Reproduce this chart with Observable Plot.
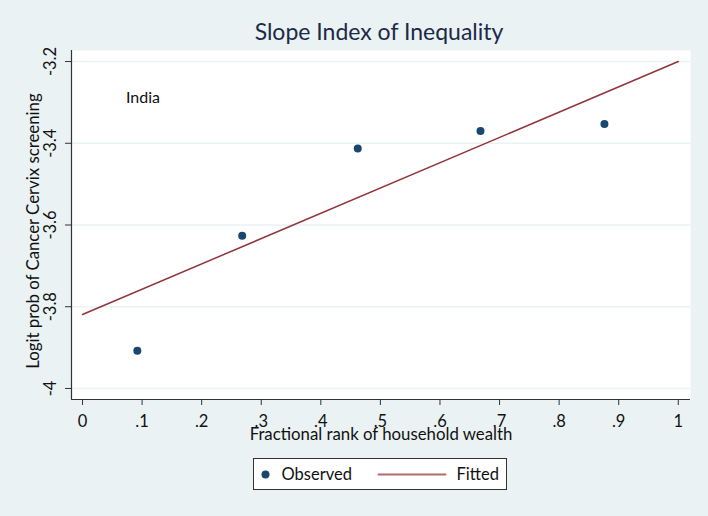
<!DOCTYPE html>
<html><head><meta charset="utf-8">
<script src="https://cdn.jsdelivr.net/npm/d3@7"></script>
<script src="https://cdn.jsdelivr.net/npm/@observablehq/plot@0.6"></script>
<style>
body{margin:0;background:#fff;}
#wrap{position:relative;width:708px;height:516px;background:#eaf2f3;font-family:Lato,"Open Sans",sans-serif;overflow:hidden;}
#title{position:absolute;left:0;width:758px;top:17px;text-align:center;font-size:23px;color:#1c2a48;}
#legend{position:absolute;left:253px;top:458px;width:252px;height:30px;background:#fff;border:1px solid #333;box-sizing:content-box;}
#legend svg{display:block;}
#plot{position:absolute;left:0;top:0;}
</style></head>
<body>
<div id="wrap">
<div id="plot"></div>
<div id="title">Slope Index of Inequality</div>
<div id="legend"></div>
</div>
<script>
const rank = [0.092, 0.268, 0.462, 0.668, 0.876];
const logit = [-3.908, -3.626, -3.413, -3.370, -3.353];
const fitX = [0, 1];
const fitY = [-3.819, -3.200];
const xTicks = [0,0.1,0.2,0.3,0.4,0.5,0.6,0.7,0.8,0.9,1];
const xTickLabels = ["0",".1",".2",".3",".4",".5",".6",".7",".8",".9","1"];
const yTicks = [-4,-3.8,-3.6,-3.4,-3.2];
const yTickLabels = ["-4","-3.8","-3.6","-3.4","-3.2"];
const legendLabels = ["Observed","Fitted"];

const obs = rank.map((r,i)=>({x:r,y:logit[i]}));
const fit = fitX.map((r,i)=>({x:r,y:fitY[i]}));
const xDom = [-0.0185, 1.0205];
const yDom = [-4.027, -3.173];

const chart = Plot.plot({
  width:708, height:516,
  marginLeft:71, marginRight:18, marginTop:50, marginBottom:117,
  x:{domain:xDom},
  y:{domain:yDom},
  style:{fontFamily:"Lato, 'Open Sans', sans-serif", background:"transparent"},
  marks:[
    Plot.frame({fill:"white", stroke:"none"}),
    Plot.gridY(yTicks,{stroke:"#eaf2f3", strokeOpacity:1, strokeWidth:1.5}),
    Plot.ruleX([xDom[0]],{stroke:"#333", strokeWidth:1.2}),
    Plot.ruleY([yDom[0]],{stroke:"#333", strokeWidth:1.2}),
    Plot.axisX({ticks:xTicks, tickFormat:(d,i)=>xTickLabels[i], tickSize:6, tickPadding:10, fontSize:16.5, stroke:"#333", color:"#111", label:null}),
    Plot.axisY({ticks:yTicks, tickSize:6, tickFormat:()=>"", stroke:"#333", label:null}),
    Plot.text(yTicks,{y:d=>d, text:(d,i)=>yTickLabels[i], frameAnchor:"left", dx:-21, rotate:-90, textAnchor:"middle", fontSize:16.5, fill:"#111"}),
    Plot.text(["Fractional rank of household wealth"],{frameAnchor:"bottom", dy:40, text:d=>d, fontSize:16.8, fill:"#111"}),
    Plot.text(["Logit prob of Cancer Cervix screening"],{frameAnchor:"left", dx:-38, rotate:-90, textAnchor:"middle", text:d=>d, fontSize:16.8, fill:"#111", dy:6}),
    Plot.text(["India"],{x:[0.073], y:[-3.29], text:d=>d, textAnchor:"start", fontSize:16, fill:"#111"}),
    Plot.line(fit,{x:"x", y:"y", stroke:"#90353b", strokeWidth:1.5}),
    Plot.dot(obs,{x:"x", y:"y", r:4, fill:"#1a476f", stroke:"none"})
  ]
});
document.getElementById("plot").appendChild(chart);

// legend
const lg = Plot.plot({
  width:252, height:30, margin:0,
  x:{domain:[0,252], axis:null}, y:{domain:[0,30], axis:null},
  style:{background:"white", fontFamily:"Lato, 'Open Sans', sans-serif"},
  marks:[
    Plot.dot([{x:11,y:15}],{x:"x",y:"y",r:4,fill:"#1a476f"}),
    Plot.text([legendLabels[0]],{x:()=>27,y:()=>15,text:d=>d,textAnchor:"start",fontSize:16.5,fill:"#111"}),
    Plot.line([{x:124,y:15},{x:191,y:15}],{x:"x",y:"y",stroke:"#b36b6f",strokeWidth:2}),
    Plot.text([legendLabels[1]],{x:()=>202,y:()=>15,text:d=>d,textAnchor:"start",fontSize:16.5,fill:"#111"})
  ]
});
document.getElementById("legend").appendChild(lg);
</script>
</body></html>
